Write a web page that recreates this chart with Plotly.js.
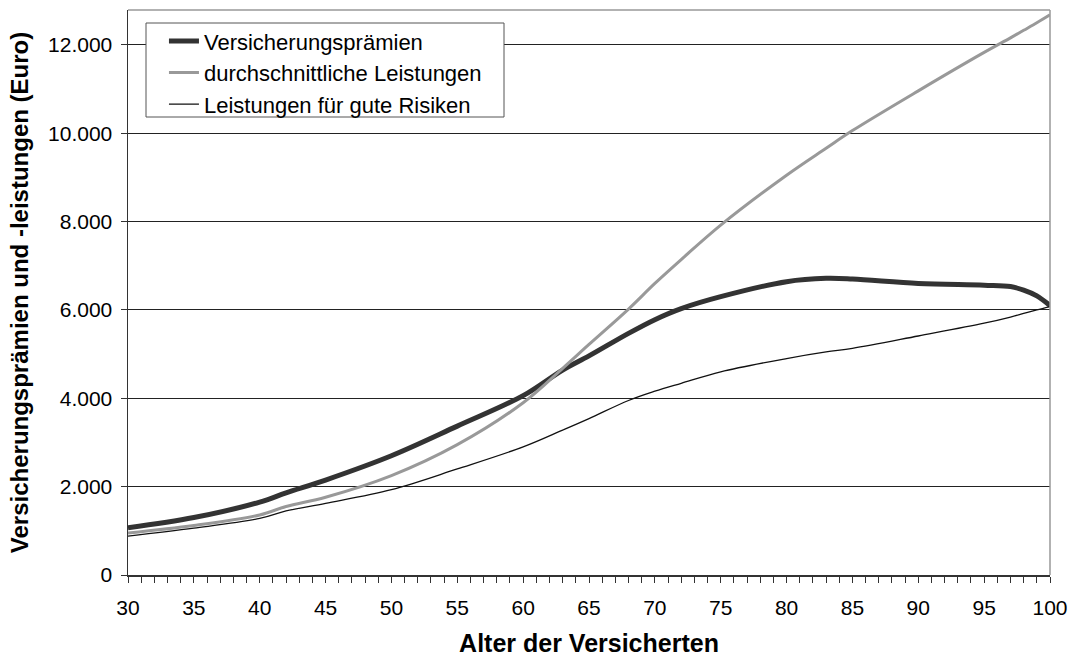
<!DOCTYPE html>
<html>
<head>
<meta charset="utf-8">
<script src="https://cdn.plot.ly/plotly-3.0.1.min.js"></script>
<style>html,body{margin:0;padding:0;background:#fff;}#chart{width:1072px;height:657px;}</style>
</head>
<body>
<div id="chart"></div>
<script>
// Alter der Versicherten
const alter = [30, 35, 40, 42, 45, 50, 55, 60, 63, 65, 68, 70, 72, 75, 80, 83, 85, 90, 95, 97, 98, 99, 100];
// Versicherungsprämien (Euro)
const praemien = [1070, 1300, 1650, 1860, 2150, 2700, 3370, 4060, 4640, 4960, 5470, 5780, 6030, 6300, 6640, 6715, 6700, 6600, 6560, 6530, 6450, 6320, 6100];
// durchschnittliche Leistungen (Euro)
const durchschnitt = [950, 1120, 1360, 1550, 1760, 2250, 2950, 3900, 4680, 5220, 6020, 6600, 7140, 7920, 9050, 9660, 10060, 10960, 11830, 12160, 12330, 12500, 12680];
// Leistungen für gute Risiken (Euro)
const guteRisiken = [880, 1060, 1280, 1450, 1620, 1930, 2400, 2900, 3280, 3540, 3950, 4160, 4340, 4600, 4900, 5050, 5130, 5410, 5700, 5840, 5920, 6000, 6075];

const seriesNames = ['Versicherungsprämien', 'durchschnittliche Leistungen', 'Leistungen für gute Risiken'];
const xTicks = [30, 35, 40, 45, 50, 55, 60, 65, 70, 75, 80, 85, 90, 95, 100];
const yTicks = [0, 2000, 4000, 6000, 8000, 10000, 12000];

const FONT = 'Liberation Sans, Arial, sans-serif';

const traces = [
  {x: alter, y: praemien, name: seriesNames[0], type: 'scatter', mode: 'lines',
   line: {color: '#333333', width: 5, shape: 'spline', smoothing: 1}},
  {x: alter, y: durchschnitt, name: seriesNames[1], type: 'scatter', mode: 'lines',
   line: {color: '#999999', width: 3, shape: 'spline', smoothing: 1}},
  {x: alter, y: guteRisiken, name: seriesNames[2], type: 'scatter', mode: 'lines',
   line: {color: '#111111', width: 1.3, shape: 'spline', smoothing: 1}}
];

const layout = {
  width: 1072, height: 657,
  margin: {l: 128, r: 22, t: 10, b: 82, pad: 0},
  paper_bgcolor: '#ffffff', plot_bgcolor: '#ffffff',
  font: {family: FONT, size: 21, color: '#000000'},
  showlegend: true,
  legend: {
    x: 0.039, y: 0.982, xanchor: 'left', yanchor: 'top',
    bgcolor: 'rgba(0,0,0,0)', borderwidth: 0,
    font: {family: FONT, size: 22, color: '#000'},
    tracegroupgap: 0, itemwidth: 30
  },
  xaxis: {
    range: [30, 100], tickmode: 'array', tickvals: xTicks, ticktext: xTicks.map(String),
    ticks: 'outside', ticklen: 6, tickwidth: 1, tickcolor: '#333',
    minor: {dtick: 1, tick0: 30, ticks: 'outside', ticklen: 6, tickwidth: 1, tickcolor: '#333', showgrid: false},
    showline: true, linecolor: '#333333', linewidth: 1.5,
    showgrid: false, zeroline: false,
    tickfont: {family: FONT, size: 21, color: '#000'},
    ticklabelstandoff: 7,
    title: {text: 'Alter der Versicherten', font: {family: FONT, size: 25, color: '#000', weight: 'bold'}, standoff: 18}
  },
  yaxis: {
    range: [0, 12790], tickmode: 'array', tickvals: yTicks,
    ticktext: yTicks.map(v => v.toString().replace(/\B(?=(\d{3})+(?!\d))/g, '.')),
    ticks: 'outside', ticklen: 6, tickwidth: 1, tickcolor: '#333',
    showline: true, linecolor: '#333333', linewidth: 1.5,
    showgrid: true, gridcolor: '#222222', gridwidth: 1,
    zeroline: false,
    tickfont: {family: FONT, size: 21, color: '#000'},
    ticklabelstandoff: 4,
    title: {text: 'Versicherungsprämien und -leistungen (Euro)', font: {family: FONT, size: 24, color: '#000', weight: 'bold'}, standoff: 12}
  },
  shapes: [
    {type: 'line', xref: 'paper', yref: 'paper', x0: 0, x1: 1, y0: 1, y1: 1, line: {color: '#999999', width: 1.5}},
    {type: 'line', xref: 'paper', yref: 'paper', x0: 1, x1: 1, y0: 0, y1: 1, line: {color: '#999999', width: 1.5}},
    {type: 'rect', xref: 'paper', yref: 'paper', layer: 'above',
     x0: 18/922, x1: 376/922, y0: 1 - 107/565, y1: 1 - 13/565,
     fillcolor: '#ffffff', line: {color: '#555555', width: 1}}
  ]
};

Plotly.newPlot('chart', traces, layout, {displayModeBar: false, staticPlot: true});
</script>
</body>
</html>
